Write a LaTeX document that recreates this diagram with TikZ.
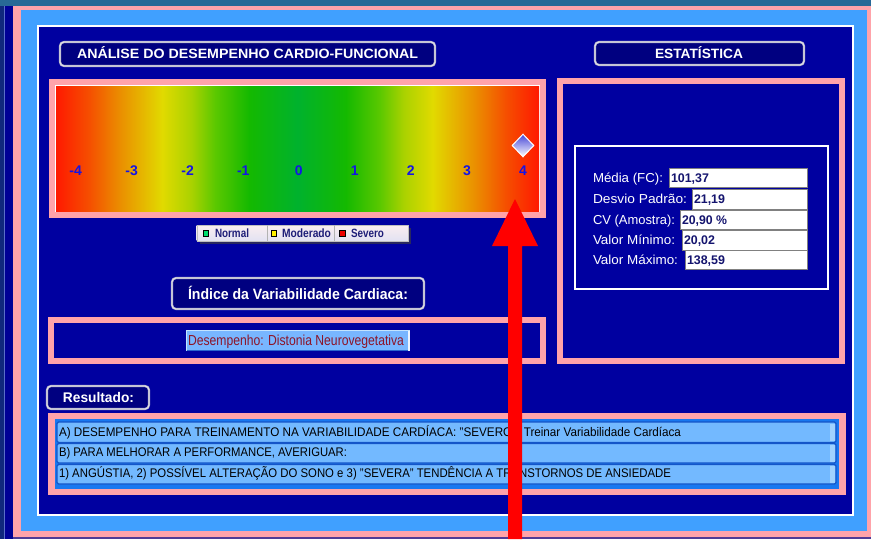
\documentclass[tikz,border=0pt]{standalone}
\usepackage{fontspec}
\setmainfont{Liberation Sans}
\usepackage{graphicx}
\usetikzlibrary{shapes.geometric}

\definecolor{teal0}{RGB}{40,105,150}
\definecolor{navyL}{RGB}{16,40,125}
\definecolor{stripB}{RGB}{0,0,150}
\definecolor{stripL}{RGB}{90,110,200}
\definecolor{pinkF}{RGB}{255,163,170}
\definecolor{ltblue}{RGB}{64,160,255}
\definecolor{innerB}{RGB}{0,0,160}
\definecolor{botP}{RGB}{80,60,150}
\definecolor{btnfill}{RGB}{0,0,128}
\definecolor{btnedge}{RGB}{180,180,200}
\definecolor{btnin}{RGB}{230,230,240}
\definecolor{numblue}{RGB}{20,20,230}
\definecolor{rowblue}{RGB}{115,185,255}
\definecolor{rowedge}{RGB}{20,85,200}
\definecolor{rowhi}{RGB}{160,210,255}
\definecolor{resbg}{RGB}{25,120,240}
\definecolor{valnavy}{RGB}{20,20,110}
\definecolor{darkred}{RGB}{140,20,40}
\definecolor{legtop}{RGB}{250,238,240}
\definecolor{legbot}{RGB}{226,226,242}
\definecolor{legtxt}{RGB}{30,30,120}
\definecolor{legshadow}{RGB}{40,40,95}
\definecolor{idxfill}{RGB}{120,182,255}
\definecolor{idxdark}{RGB}{40,100,205}
\definecolor{idxhi}{RGB}{195,228,255}
\definecolor{diatop}{RGB}{70,70,215}
\definecolor{sqgreen}{RGB}{0,220,110}
\definecolor{sqyellow}{RGB}{255,240,0}
\definecolor{sqred}{RGB}{235,0,0}
\definecolor{g0}{RGB}{255,25,0}
\definecolor{g1}{RGB}{245,80,0}
\definecolor{g2}{RGB}{235,140,0}
\definecolor{g3}{RGB}{225,218,0}
\definecolor{g4}{RGB}{170,210,0}
\definecolor{g5}{RGB}{90,200,0}
\definecolor{g6}{RGB}{20,185,0}
\definecolor{g7}{RGB}{0,178,45}

\pgfdeclarehorizontalshading{gauge}{100bp}{color(0bp)=(g0); color(25bp)=(g0);
 color(28.5bp)=(g1); color(31.5bp)=(g2); color(36bp)=(g3); color(39bp)=(g4);
 color(41.5bp)=(g5); color(45bp)=(g6); color(50bp)=(g7); color(55bp)=(g6);
 color(58.5bp)=(g5); color(61bp)=(g4); color(64bp)=(g3); color(68.5bp)=(g2);
 color(71.5bp)=(g1); color(75bp)=(g0); color(100bp)=(g0)}

\newcommand{\fitw}[2]{\resizebox{#1}{\height}{#2}}

\tikzset{
  btn/.style={fill=btnfill, draw=btnedge, line width=2.2pt, rounded corners=4pt},
  btnline/.style={draw=btnin, line width=0.8pt, rounded corners=4pt},
  txt/.style={inner sep=0pt, outer sep=0pt, anchor=base west},
  hdr/.style={txt, text=white, font=\bfseries\fontsize{13.5}{15}\selectfont},
  numlab/.style={inner sep=0pt, anchor=base, text=numblue, font=\bfseries\fontsize{14}{16}\selectfont},
  leglab/.style={txt, text=legtxt, font=\bfseries\fontsize{12}{14}\selectfont},
  legsq/.style={draw=black, line width=0.6pt, minimum size=5.5pt, inner sep=0pt},
  statlab/.style={txt, text=white, font=\fontsize{13}{15}\selectfont},
  statval/.style={txt, text=valnavy, font=\bfseries\fontsize{12.5}{14}\selectfont},
  valbox/.style={fill=white, draw=gray, line width=1pt},
  rowbar/.style={fill=rowblue, draw=rowedge, line width=1.2pt, rounded corners=1.5pt},
  rowtxt/.style={txt, text=black, font=\fontsize{12.5}{14}\selectfont},
}

\begin{document}
\begin{tikzpicture}[x=1pt, y=-1pt]
\useasboundingbox (0,0) rectangle (871,539);
% outer frame
\fill[navyL] (0,0) rectangle (871,539);
\fill[stripL] (4,6) rectangle (5.2,539);
\fill[stripB] (5.2,6) rectangle (13.3,539);
\fill[teal0] (0,0) rectangle (871,6);
\fill[pinkF] (13.3,6) rectangle (871,537);
\fill[botP] (13.3,537) rectangle (871,539);
\fill[ltblue] (20.7,10) rectangle (867.3,531);
\fill[white] (36.7,24.7) rectangle (853.7,515.7);
\fill[innerB] (38.5,26.5) rectangle (852.3,514);

% ---- gauge section
\draw[btn] (60,42) rectangle (435,66);
\draw[btnline] (60,42) rectangle (435,66);
\node[hdr, font=\bfseries\fontsize{13.5}{15}\selectfont] (t1) at (77,58.7) {\fitw{341pt}{ANÁLISE DO DESEMPENHO CARDIO-FUNCIONAL}};
\fill[pinkF] (49,79) rectangle (546,218);
\fill[white] (55,85) rectangle (540,212);
\shade[shading=gauge] (56,86) rectangle (539,211);
\foreach \v/\x [count=\i] in {-4/75.7,-3/131.7,-2/187.7,-1/243.3,0/298.7,1/354.7,2/410.7,3/467,4/523}
  \node[numlab] (num\i) at (\x,175.5) {\v};
\node[diamond, aspect=1, minimum width=22pt, minimum height=23pt, inner sep=0pt,
      top color=diatop, bottom color=white, draw=white, line width=1pt] (dia) at (523,145.5) {};

% legend
\fill[legshadow] (199.5,227.5) rectangle (411,243.5);
\shade[top color=legtop, bottom color=legbot, draw=gray!50] (196.7,225) rectangle (408.3,240.7);
\draw[gray!60] (266.7,225) -- (266.7,240.7);
\draw[gray!60] (334,225) -- (334,240.7);
\node[legsq, fill=sqgreen] (sq1) at (206,233.5) {};
\node[legsq, fill=sqyellow] (sq2) at (274,233.5) {};
\node[legsq, fill=sqred] (sq3) at (342.5,233.5) {};
\node[leglab] (l1) at (215,237.5) {\fitw{34pt}{Normal}};
\node[leglab] (l2) at (282,237.5) {\fitw{49pt}{Moderado}};
\node[leglab] (l3) at (351,237.5) {\fitw{33pt}{Severo}};

% index section
\draw[btn] (172,278) rectangle (424,309);
\draw[btnline] (172,278) rectangle (424,309);
\node[hdr, font=\bfseries\fontsize{15}{17}\selectfont] (t2) at (188,299.5) {\fitw{220pt}{Índice da Variabilidade Cardiaca:}};
\fill[pinkF] (48,317) rectangle (546,364);
\fill[innerB] (54,323) rectangle (540,358);
\fill[idxfill] (186,330) rectangle (410,351);
\draw[idxhi, line width=1pt] (186.5,350.5) -- (186.5,330.5) -- (409.5,330.5);
\draw[idxdark, line width=1pt] (186.5,350.5) -- (407.5,350.5);
\draw[white!85!idxfill, line width=1.4pt] (408.8,330.5) -- (408.8,350.5);
\node[txt, text=darkred, font=\fontsize{14.5}{16}\selectfont] (idx) at (188,345) {\fitw{216pt}{Desempenho: Distonia Neurovegetativa}};

% statistics section
\draw[btn] (595,42) rectangle (804,65);
\draw[btnline] (595,42) rectangle (804,65);
\node[hdr] (t3) at (655,58.3) {\fitw{88pt}{ESTATÍSTICA}};
\fill[pinkF] (557,78) rectangle (845,364);
\fill[innerB] (563,84) rectangle (839,358);
\draw[white, line width=1.2pt] (575,146) rectangle (828,289);
\draw[valbox] (669,168) rectangle (807,187);
\draw[valbox] (692,189) rectangle (807,209);
\draw[valbox] (680,210) rectangle (807,229);
\draw[valbox] (682,230) rectangle (807,250);
\draw[valbox] (685,250) rectangle (807,269);
\node[statlab] (s1) at (593,182) {\fitw{70pt}{Média (FC):}};
\node[statlab] (s2) at (593,203.5) {\fitw{94pt}{Desvio Padrão:}};
\node[statlab] (s3) at (593,224) {\fitw{82pt}{CV (Amostra):}};
\node[statlab] (s4) at (593,244.5) {\fitw{82pt}{Valor Mínimo:}};
\node[statlab] (s5) at (593,264) {\fitw{85pt}{Valor Máximo:}};
\node[statval] (v1) at (671,182) {\fitw{38pt}{101,37}};
\node[statval] (v2) at (694,203.5) {\fitw{31pt}{21,19}};
\node[statval] (v3) at (682,224) {\fitw{45pt}{20,90 \%}};
\node[statval] (v4) at (684,244.5) {\fitw{31pt}{20,02}};
\node[statval] (v5) at (687,264) {\fitw{38pt}{138,59}};

% result section
\draw[btn] (47,386) rectangle (149,409);
\draw[btnline] (47,386) rectangle (149,409);
\node[hdr, font=\bfseries\fontsize{14}{16}\selectfont] (t4) at (63,402.7) {\fitw{71pt}{Resultado:}};
\fill[pinkF] (48,413) rectangle (846,495);
\fill[resbg] (55,419) rectangle (839,489);
\draw[rowbar] (57,422) rectangle (836,442.5);
\draw[rowbar] (57,443.5) rectangle (836,463);
\draw[rowbar] (57,464.5) rectangle (836,484);
\fill[rowhi] (830,423.5) rectangle (834.5,441);
\fill[rowhi] (830,445) rectangle (834.5,461.5);
\fill[rowhi] (830,466) rectangle (834.5,482.5);
\node[rowtxt] (r1) at (59,436.7) {\fitw{622pt}{A) DESEMPENHO PARA TREINAMENTO NA VARIABILIDADE CARDÍACA: "SEVERO". Treinar Variabilidade Cardíaca}};
\node[rowtxt] (r2) at (59,456.7) {\fitw{288pt}{B) PARA MELHORAR A PERFORMANCE, AVERIGUAR:}};
\node[rowtxt] (r3) at (59,477.7) {\fitw{612pt}{1) ANGÚSTIA, 2) POSSÍVEL ALTERAÇÃO DO SONO e 3) "SEVERA" TENDÊNCIA A TRANSTORNOS DE ANSIEDADE}};

% red arrow
\coordinate (aTip) at (515,199);
\coordinate (aHL) at (492,246);
\coordinate (aHR) at (538,246);
\coordinate (aSL) at (508,246);
\coordinate (aSR) at (522,246);
\coordinate (aBL) at (508,539);
\coordinate (aBR) at (522,539);
\fill[red] (aBL) -- (aSL) -- (aHL) -- (aTip) -- (aHR) -- (aSR) -- (aBR) -- cycle;
\end{tikzpicture}
\end{document}
